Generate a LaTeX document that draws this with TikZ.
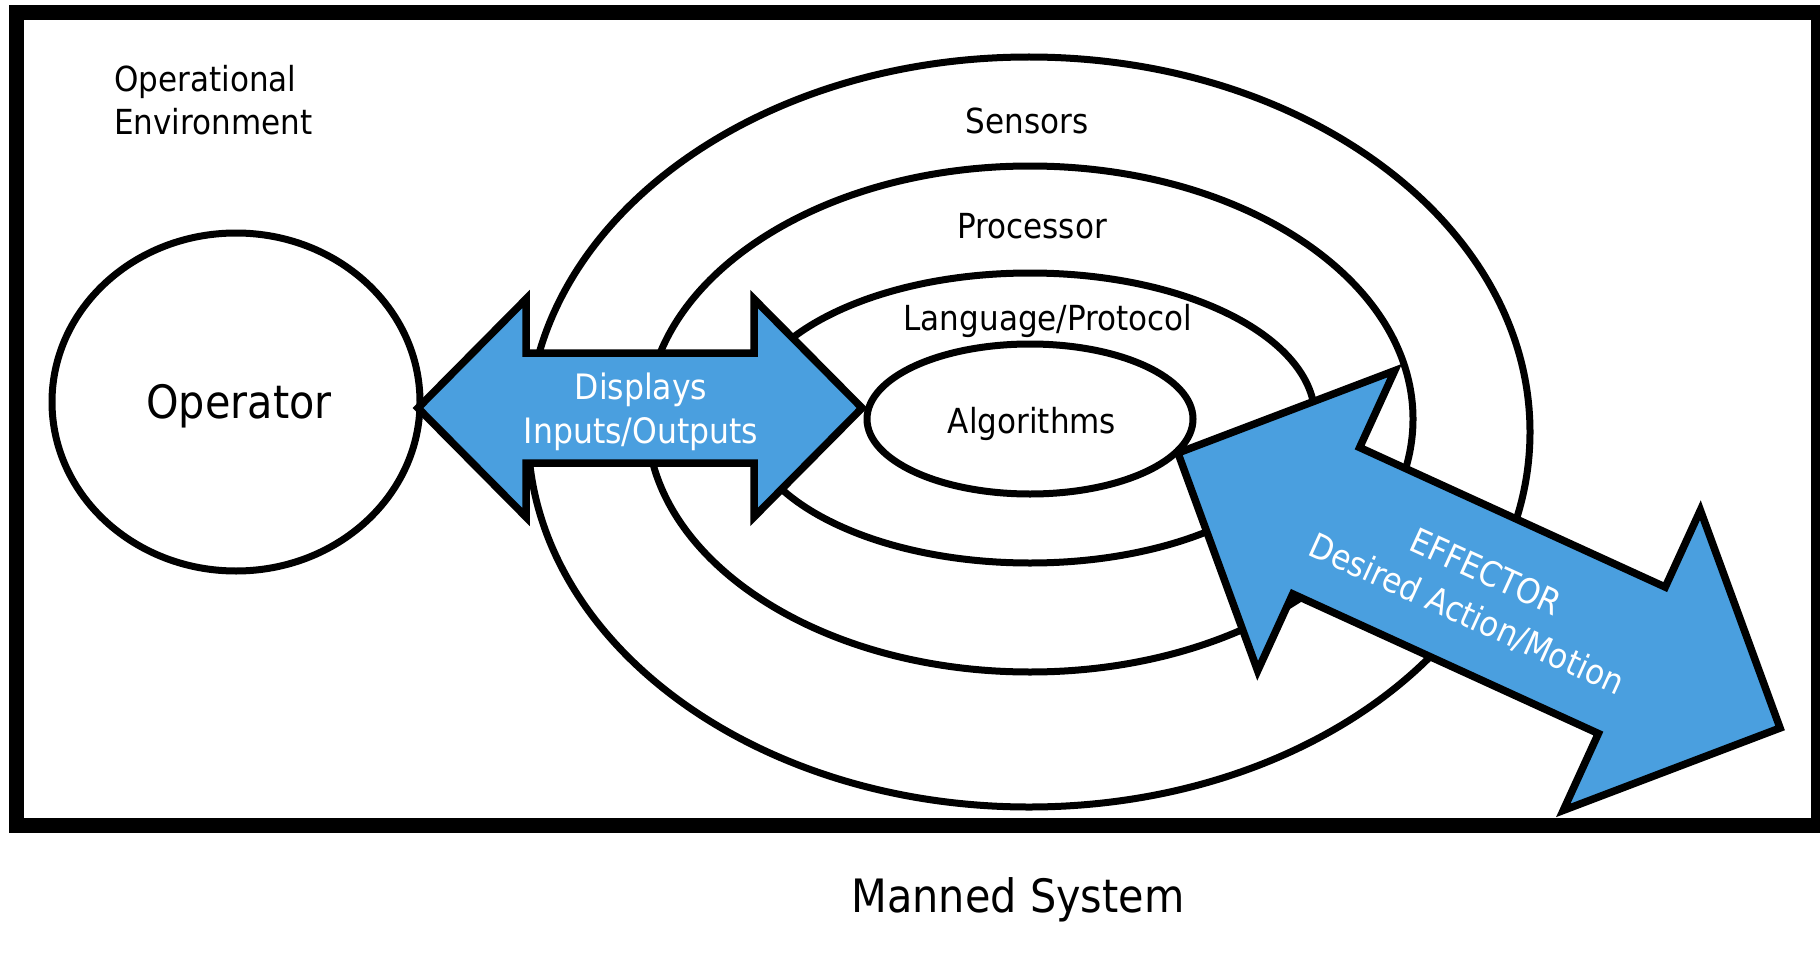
\documentclass[tikz,border=0pt]{standalone}
\usepackage{fontspec}
\setmainfont{DejaVu Sans}[FakeStretch=0.9]
\usetikzlibrary{shapes.geometric}
\definecolor{arrowblue}{RGB}{74,159,223}
\begin{document}
\begin{tikzpicture}[x=1pt,y=-1pt,
  ring/.style={ellipse, draw, line width=7pt, fill=white, inner sep=0pt},
  lbl/.style={font=\fontsize{34.5}{43}\selectfont, inner sep=0pt},
  biglbl/.style={font=\fontsize{46}{55}\selectfont, inner sep=0pt},
  flow/.style={fill=arrowblue, draw=black, line width=7.5pt, line join=miter, miter limit=10},
  flowtext/.style={lbl, text=white, align=center}]
\useasboundingbox (0,0) rectangle (1820,955);

% outer frame of the environment
\draw[line width=15pt] (16,12.5) rectangle (1818,825);

% nested system rings
\node[ring, minimum width=1002pt, minimum height=750pt] (sensors) at (1029,432) {};
\node[ring, minimum width=766pt, minimum height=506pt] (processor) at (1030,419) {};
\node[ring, minimum width=570pt, minimum height=290pt] (language) at (1030,418) {};
\node[ring, minimum width=326pt, minimum height=150pt] (algo) at (1030,419) {};

% operator
\node[ring, minimum width=368pt, minimum height=338pt] (operator) at (236,402) {};
\node[biglbl] (operatorlbl) at (239,406) {Operator};

% displays double arrow
\begin{scope}[shift={(640,408)}]
  \draw[flow] (-222,0) -- (-114,-109) -- (-114,-55) -- (114,-55) -- (114,-109)
    -- (222,0) -- (114,109) -- (114,55) -- (-114,55) -- (-114,109) -- cycle;
\end{scope}
\node[flowtext, font=\fontsize{35}{44}\selectfont] (displays) at (641,412) {Displays\\Inputs/Outputs};

% effector double arrow
\begin{scope}[shift={(1479,590.5)}, rotate=-24.55]
  \draw[flow] (-331,0) -- (-168,-165) -- (-168,-80.5) -- (168,-80.5) -- (168,-165)
    -- (331,0) -- (168,165) -- (168,80.5) -- (-168,80.5) -- (-168,165) -- cycle;
\end{scope}
\node[flowtext, font=\fontsize{34.5}{46}\selectfont, rotate=-24.5] (effector) at (1476,594) {EFFECTOR\\Desired Action/Motion};

% labels
\node[lbl] (sensorslbl) at (1027,121) {Sensors};
\node[lbl] (processorlbl) at (1032,226) {Processor};
\node[lbl] (languagelbl) at (1048,321) {Language/Protocol};
\node[lbl] (algolbl) at (1032,424) {Algorithms};
\node[lbl, anchor=west, align=left] (env) at (114,100) {Operational\\Environment};
\node[biglbl] (manned) at (1018,900) {Manned System};
\end{tikzpicture}
\end{document}
